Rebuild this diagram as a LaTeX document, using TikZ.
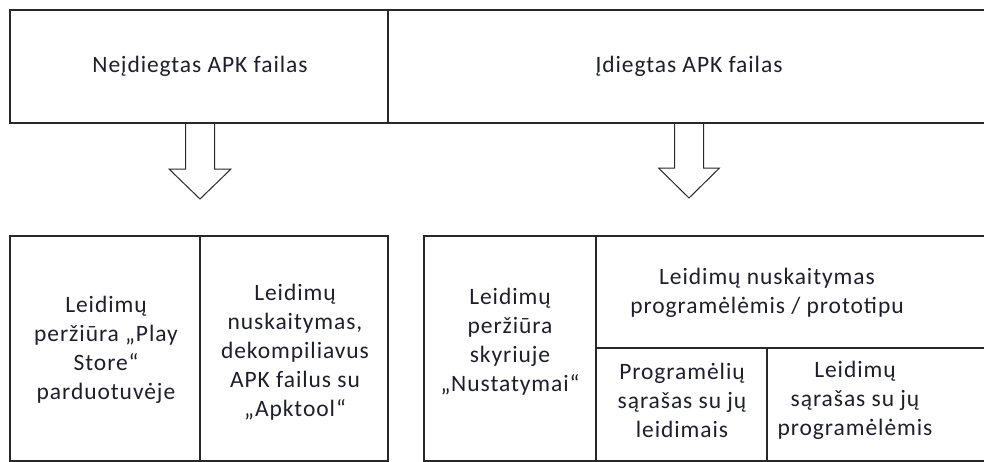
\documentclass[tikz,border=0pt]{standalone}
\usepackage{fontspec}
\setmainfont[LetterSpace=4]{Carlito}
\usepackage{xcolor}
\definecolor{frame}{RGB}{40,40,40}
\definecolor{txt}{RGB}{30,30,45}

\begin{document}
\begin{tikzpicture}[x=1pt,y=-1pt,
    lbl/.style={align=center, text=txt, inner sep=0pt, font=\fontsize{23.5}{29}\selectfont},
    frm/.style={draw=frame, line width=1.3pt},
    blockarrow/.style={draw=frame, line width=1pt, line join=miter}]
  \clip (0,0) rectangle (984,461);
  % upper row
  \draw[frm] (10,10) rectangle (1010,123);
  \draw[frm] (388,10) -- (388,123);
  \node[lbl] (nei) at (200,66) {Neįdiegtas APK failas};
  \node[lbl] (idi) at (689,66) {Įdiegtas APK failas};
  % block arrows
  \coordinate (arrL) at (200,123);
  \coordinate (arrR) at (689,123);
  \draw[blockarrow] (arrL) ++(-14.5,0) -- ++(0,46) -- ++(-16.5,0) -- ++(31,30) -- ++(31,-30) -- ++(-16.5,0) -- ++(0,-46);
  \draw[blockarrow] (arrR) ++(-14.5,0) -- ++(0,45) -- ++(-16,0) -- ++(30.5,30) -- ++(30.5,-30) -- ++(-16,0) -- ++(0,-45);
  % lower left
  \draw[frm] (10,236) rectangle (388,461);
  \draw[frm] (200,236) -- (200,461);
  \node[lbl] (store) at (106,350) {Leidimų\\peržiūra „Play\\Store“\\parduotuvėje};
  \node[lbl] (apktool) at (295,352) {Leidimų\\nuskaitymas,\\dekompiliavus\\APK failus su\\„Apktool“};
  % lower right
  \draw[frm] (424,236) rectangle (1010,461);
  \draw[frm] (596,236) -- (596,461);
  \draw[frm] (596,348) -- (1010,348);
  \draw[frm] (767,348) -- (767,461);
  \node[lbl] (nust) at (510,342) {Leidimų\\peržiūra\\skyriuje\\„Nustatymai“};
  \node[lbl] (proto) at (767,293) {Leidimų nuskaitymas\\programėlėmis / prototipu};
  \node[lbl] (sarA) at (682,400) {Programėlių\\sąrašas su jų\\leidimais};
  \node[lbl] (sarB) at (855,400) {Leidimų\\sąrašas su jų\\programėlėmis};
\end{tikzpicture}
\end{document}
